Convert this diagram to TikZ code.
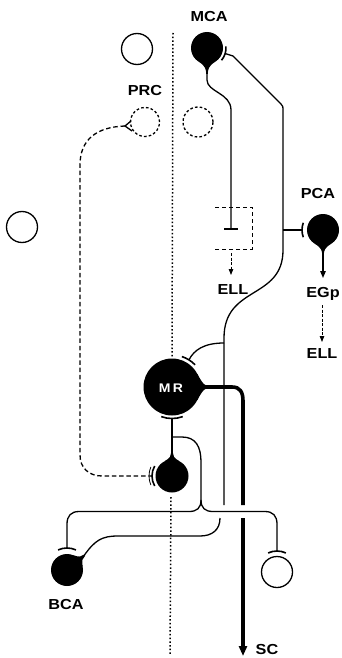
\documentclass[tikz,border=0pt]{standalone}
\usepackage{fontspec}
\setmainfont{Liberation Sans}
\usetikzlibrary{arrows.meta,calc}
\newcommand\lbl[1]{\scalebox{1.12}[1]{#1}}
\newcommand\neuronbody[4]{%
 \begin{scope}[shift={#1},rotate=#3]
 \fill (28:#2) .. controls ({#2+0.25*#4},{0.1*#2}) and ({#2+0.5*#4},0.9) .. ({#2+#4},0.8)
   -- ({#2+#4},-0.8) .. controls ({#2+0.5*#4},-0.9) and ({#2+0.25*#4},{-0.1*#2}) .. (-28:#2) -- cycle;
 \end{scope}}
\begin{document}
\begin{tikzpicture}[x=1pt,y=1pt,
 ax/.style={line width=1.3pt},
 syn/.style={line width=1.6pt},
 thick axon/.style={line width=3.6pt},
 soma/.style={circle,fill=black,inner sep=0pt},
 opencell/.style={circle,draw,line width=1.3pt,inner sep=0pt,minimum size=31pt},
 dashcirc/.style={circle,draw,line width=1.3pt,dash pattern=on 2.6pt off 2.2pt,inner sep=0pt,minimum size=29pt},
 midline/.style={line width=1.5pt,dash pattern=on 1.5pt off 2.2pt},
 dashline/.style={line width=1.3pt,dash pattern=on 4.5pt off 2.8pt},
 boxdash/.style={line width=0.9pt,dash pattern=on 4pt off 3pt},
 thinarrow/.style={line width=0.8pt,dash pattern=on 3pt off 1.5pt,-{Triangle[length=6pt,width=4.5pt]}},
 lab/.style={anchor=base,inner sep=0pt,font=\fontsize{14.5}{15}\selectfont\bfseries}]
\useasboundingbox (0,0) rectangle (341,-658);
\fill[white] (0,0) rectangle (341,-658);

% midline
\coordinate (m1) at (173,-33);
\coordinate (m2) at (172,-357);
\coordinate (m3) at (171,-497);
\coordinate (m4) at (170,-655);
\draw[midline] (m1) -- (m2);
\draw[midline] (m3) -- (m4);

% cells
\node[soma,minimum size=32pt] (MCA) at (207,-48) {};
\node[soma,minimum size=32pt] (PCA) at (323,-230) {};
\node[soma,minimum size=57pt] (MR) at (172,-387) {};
\node[soma,minimum size=33pt] (SM) at (172,-476) {};
\node[soma,minimum size=32pt] (BCA) at (67,-570) {};
\neuronbody{(MCA.center)}{16}{-90}{10}
\neuronbody{(PCA.center)}{16}{-90}{9}
\neuronbody{(MR.center)}{28.5}{0}{9}
\neuronbody{(SM.center)}{16.5}{90}{7}
\neuronbody{(BCA.center)}{16}{40}{7}

\node[opencell] (tl) at (137,-49) {};
\node[opencell] (lc) at (22,-227) {};
\node[opencell] (rc) at (277,-572) {};
\node[dashcirc] (PRC) at (145,-122) {};
\node[dashcirc,minimum size=30pt] (prc2) at (198,-122) {};

% labels
\node[lab] (lMCA) at (209,-22) {\lbl{MCA}};
\node[lab] (lPRC) at (145,-96) {\lbl{PRC}};
\node[lab] (lPCA) at (318,-198) {\lbl{PCA}};
\node[lab] (lELL1) at (233,-294) {\lbl{ELL}};
\node[lab] (lEGp) at (323,-297) {\lbl{EGp}};
\node[lab] (lELL2) at (322,-358) {\lbl{ELL}};
\node[lab] (lBCA) at (66,-609) {\lbl{BCA}};
\node[lab] (lSC) at (267,-654) {\lbl{SC}};
\node[lab,text=white,font=\fontsize{12.5}{13}\selectfont\bfseries] (lMR) at (171,-392.5) {\lbl{M\,R}};

% MCA short axon to box
\coordinate (a1) at (207,-73);
\coordinate (T1) at (231,-229);
\draw[ax] (a1) -- (207,-80) .. controls (207,-92) and (231,-93) .. (231,-110) -- (T1);
\draw[syn] ($(T1)+(-7,0)$) -- ($(T1)+(7,0)$);
\draw[boxdash] (215,-207) -- (252,-207) -- (252,-249) -- (215,-249);
\draw[thinarrow] (231,-253) -- (231,-275);

% MCA long axon
\draw[syn] ($(MCA)+(-40:19)$) arc (-40:5:19);
\coordinate (J1) at (224,-343);
\draw[ax] ($(MCA)+(-17:19)$) -- (233,-56) -- (281,-104) .. controls (283,-106) .. (283,-112)
  -- (283,-250) .. controls (283,-300) and (224,-285) .. (224,-338) -- (224,-505);
\draw[ax] (283,-230) -- ($(PCA)+(180:21)$);
\draw[syn] ($(PCA)+(160:21)$) arc (160:200:21);

% PCA output
\draw[ax,-{Triangle[length=7pt,width=5.5pt]}] (323,-254) -- (323,-278);
\draw[thinarrow] (322,-305) -- (322,-342);

% to MR top
\draw[ax] (J1) .. controls (204,-343) and (194,-350) .. ($(MR)+(58:32)$);
\draw[syn] ($(MR)+(44:32)$) arc (44:72:32);

% MR thick axon
\draw[thick axon] (198,-387) -- (232,-387) .. controls (240,-387) and (243,-392) .. (243,-401) -- (243,-505);
\draw[thick axon,-{Triangle[length=10pt,width=8pt]}] (243,-518) -- (243,-656);

% MR bottom synapse and small cell
\draw[syn] ($(MR)+(-110:31.5)$) arc (-110:-70:31.5);
\draw[ax] ($(MR)+(-90:31.5)$) -- (172,-455);
\coordinate (J) at (201,-500);
\draw[ax] (172,-437) -- (182,-437) .. controls (196,-437) and (201,-447) .. (201,-462) -- (J);
\draw[ax] (J) .. controls (201,-508) and (197,-511.5) .. (189,-511.5) -- (79,-511.5)
  .. controls (71,-511.5) and (67,-516) .. (67,-524) -- ($(BCA)+(90:22)$);
\draw[ax] (J) .. controls (201,-508) and (205,-511.5) .. (213,-511.5) -- (265,-511.5)
  .. controls (273,-511.5) and (277,-516) .. (277,-524) -- ($(rc)+(90:21)$);
\draw[syn] ($(BCA)+(66:22)$) arc (66:114:22);
\draw[syn] ($(rc)+(65:21)$) arc (65:115:21);

% BCA axon
\draw[ax] ($(BCA)+(40:22)$) .. controls (95,-540) and (102,-536) .. (118,-536) -- (200,-536)
  .. controls (212,-536) and (220,-530) .. (220,-518);

% PRC dashed projection
\coordinate (fk) at (125,-126);
\draw[dashline] (fk) .. controls (96,-127) and (80,-140) .. (80,-165) -- (80,-455)
  .. controls (80,-468) and (89,-476) .. (102,-476) -- ($(SM)+(180:20)$);
\draw[ax] (131,-121) -- (fk) -- (132,-131);
\draw[syn] ($(SM)+(150:20)$) arc (150:210:20);
\draw[line width=0.8pt] ($(SM)+(157:23)$) arc (157:203:23);
\end{tikzpicture}
\end{document}
